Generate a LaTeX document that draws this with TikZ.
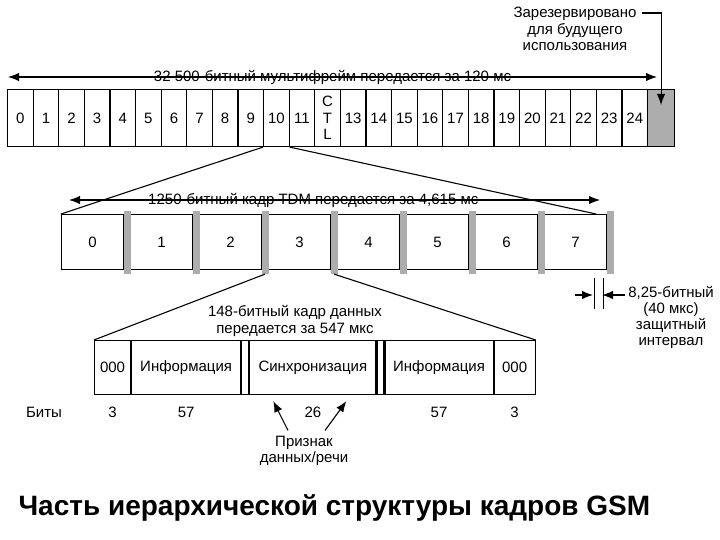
\documentclass[tikz,border=0pt]{standalone}
\usepackage{fontspec}
\setmainfont{Liberation Sans}
\usetikzlibrary{arrows.meta}
\usetikzlibrary{positioning}

\begin{document}
\begin{tikzpicture}[
x=1pt, y=-1pt,
every node/.style={font=\fontsize{15}{16.5}\selectfont, inner sep=0},
every path/.style={line width=1.1pt},
cell/.style={draw, minimum width=25.6pt, minimum height=57pt, anchor=north west, align=center},
slot/.style={draw, minimum width=62pt, minimum height=55pt, anchor=north west},
guard/.style={fill=black!32, minimum width=7pt, minimum height=63pt, anchor=north west},
field/.style={draw, minimum height=54pt, anchor=north west},
arr/.style={-{Latex[length=11pt,width=8.5pt]}},
dim/.style={{Latex[length=11pt,width=8.5pt]}-{Latex[length=11pt,width=8.5pt]}}
]
\useasboundingbox (0,0) rectangle (720,540);

% multiframe
\foreach \i in {0,...,24} {
  \ifnum\i=12 \node[cell] (c\i) at (7+25.6*\i,89) {C\\T\\L};
  \else \node[cell] (c\i) at (7+25.6*\i,89) {\i}; \fi
}
\node[cell, fill=black!32, minimum width=27pt] (grey) at (647,89) {};
\draw[dim] ([xshift=1pt,yshift=12pt]c0.north west) -- node[pos=0.5] {32 500-битный мультифрейм передается за 120 мс} ([xshift=10pt,yshift=12pt]grey.north west);

\node[align=center] (resv) at (575,29) {Зарезервировано\\для будущего\\использования};
\coordinate (resvy) at (0,13);
\draw[arr] ([xshift=5pt]resv.east |- resvy) -| ([yshift=-16pt]grey.north);

% TDM frame
\foreach \i in {0,...,7}
  \node[slot] (s\i) at (61+69*\i,214) {\i};
\foreach \i in {0,...,7}
  \node[guard] (g\i) at (123+69*\i,210) {};
\draw[dim] ([xshift=8pt,yshift=14pt]s0.north west) -- node[pos=0.46] {1250-битный кадр TDM передается за 4,615 мс} ([xshift=-7pt,yshift=14pt]s7.north east);
\draw (c10.south west) -- (s0.north west);
\draw (c10.south east) -- ([xshift=-11pt]s7.north east);

% guard interval
\draw ([xshift=-13pt,yshift=-8pt]s7.south east) -- ++(0,31);
\draw ([xshift=-4pt,yshift=-8pt]s7.south east) -- ++(0,31);
\coordinate (gl) at (593,295);
\coordinate (gr) at (602,295);
\node[align=center, font=\fontsize{15}{16}\selectfont] (gtext) at (671,317) {8,25-битный\\(40 мкс)\\защитный\\интервал};
\draw[arr] ([xshift=-18pt]gl) -- (gl);
\draw[arr] ([xshift=-3pt]gtext.west |- gr) -- (gr);

% data burst
\node[field, minimum width=36pt] (f0) at (94,340) {000};
\node[field, minimum width=109pt, right=0pt of f0] (f1) {Информация};
\node[field, minimum width=7pt, right=0pt of f1] (da) {};
\node[field, minimum width=126pt, right=0pt of da] (f2) {Синхронизация};
\node[field, minimum width=7pt, right=0pt of f2] (db) {};
\node[field, minimum width=108pt, right=0pt of db] (f3) {Информация};
\node[field, minimum width=41pt, right=0pt of f3] (f4) {000};
\draw (g2.south) -- (f0.north west);
\draw (g3.south) -- (f4.north east);
\node[align=center, font=\fontsize{15}{17.5}\selectfont] (dhead) at (295,321) {148-битный кадр данных\\передается за 547 мкс};

\node (bits) at (44,412) {Биты};
\node (n0) at (f0 |- bits) {3};
\node (n1) at (f1 |- bits) {57};
\node (n2) at (f2 |- bits) {26};
\node (n3) at (f3 |- bits) {57};
\node (n4) at (f4 |- bits) {3};

\node[align=center] (sign) at (304,451) {Признак\\данных/речи};
\draw[arr] ([xshift=-16pt,yshift=5pt]sign.north) -- ([xshift=24pt,yshift=-6pt]f2.south west);
\draw[arr] ([xshift=21pt,yshift=5pt]sign.north) -- ([xshift=-30pt,yshift=-6pt]f2.south east);

\node[font=\fontsize{28}{32}\selectfont\bfseries, anchor=west] (caption) at (18,508) {Часть иерархической структуры кадров GSM};
\end{tikzpicture}
\end{document}
